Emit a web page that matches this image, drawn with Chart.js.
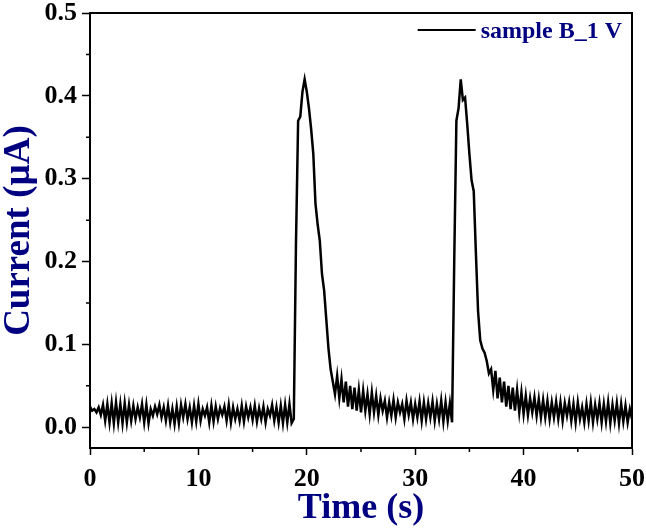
<!DOCTYPE html>
<html>
<head>
<meta charset="utf-8">
<script src="https://cdn.jsdelivr.net/npm/chart.js@4"></script>
<style>
  html, body { margin: 0; padding: 0; background: #fff; }
  #wrap { width: 646px; height: 530px; }
</style>
</head>
<body>
<div id="wrap"><canvas id="chart" width="646" height="530"></canvas></div>
<script>
// Sampling of the trace (s)
const timeStart = 0;
const timeStep = 0.2;

// Current (uA), segment by segment
const baselineBefore = [
  0.025, 0.020, 0.022, 0.018, 0.024, 0.015, 0.027, 0.008, 0.028, 0.006,
  0.029, 0.005, 0.030, 0.006, 0.028, 0.005, 0.029, 0.006, 0.027, 0.008,
  0.026, 0.010, 0.024, 0.012, 0.028, 0.006, 0.027, 0.005, 0.022, 0.014,
  0.025, 0.016, 0.027, 0.012, 0.024, 0.008, 0.026, 0.006, 0.022, 0.004,
  0.025, 0.005, 0.027, 0.012, 0.028, 0.010, 0.024, 0.006, 0.026, 0.007,
  0.028, 0.008, 0.022, 0.014, 0.024, 0.006, 0.026, 0.007, 0.025, 0.010,
  0.023, 0.015, 0.025, 0.008, 0.027, 0.006, 0.024, 0.010, 0.022, 0.008,
  0.026, 0.007, 0.025, 0.012, 0.024, 0.009, 0.026, 0.007, 0.023, 0.010,
  0.025, 0.006, 0.022, 0.014, 0.027, 0.008, 0.024, 0.006, 0.026, 0.005,
  0.027, 0.006, 0.028, 0.005, 0.010
];
const firstPeak = [
  0.220, 0.370, 0.375, 0.405, 0.420, 0.405, 0.385, 0.360, 0.330, 0.270,
  0.245, 0.225, 0.185, 0.165, 0.130, 0.095, 0.070, 0.055
];
const betweenPeaks = [
  0.040, 0.062, 0.035, 0.058, 0.030, 0.055, 0.025, 0.050, 0.022, 0.048,
  0.020, 0.045, 0.018, 0.044, 0.020, 0.040, 0.016, 0.042, 0.018, 0.038,
  0.015, 0.035, 0.020, 0.032, 0.012, 0.030, 0.014, 0.033, 0.012, 0.030,
  0.018, 0.028, 0.010, 0.032, 0.015, 0.030, 0.010, 0.028, 0.012, 0.031,
  0.008, 0.030, 0.010, 0.029, 0.012, 0.031, 0.008, 0.028, 0.010, 0.032,
  0.007, 0.030, 0.008, 0.029, 0.006
];
const secondPeak = [
  0.200, 0.370, 0.385, 0.420, 0.395, 0.398, 0.366, 0.330, 0.298, 0.285,
  0.210, 0.140, 0.105, 0.095, 0.090, 0.080, 0.065, 0.070
];
const baselineAfter = [
  0.045, 0.068, 0.035, 0.060, 0.030, 0.055, 0.025, 0.050, 0.022, 0.048,
  0.020, 0.045, 0.018, 0.042, 0.016, 0.038, 0.015, 0.035, 0.018, 0.036,
  0.014, 0.034, 0.012, 0.033, 0.012, 0.032, 0.010, 0.030, 0.012, 0.031,
  0.010, 0.030, 0.008, 0.029, 0.014, 0.030, 0.008, 0.028, 0.006, 0.030,
  0.010, 0.024, 0.006, 0.028, 0.008, 0.030, 0.006, 0.027, 0.010, 0.029,
  0.006, 0.028, 0.007, 0.030, 0.005, 0.027, 0.008, 0.029, 0.005, 0.028,
  0.007, 0.026, 0.006, 0.022, 0.010
];

const xTicks = [0, 5, 10, 15, 20, 25, 30, 35, 40, 45, 50];
const yTicks = [0, 0.05, 0.1, 0.15, 0.2, 0.25, 0.3, 0.35, 0.4, 0.45, 0.5];
const seriesLabel = 'sample B_1 V';

const current = [].concat(baselineBefore, firstPeak, betweenPeaks, secondPeak, baselineAfter);
const points = current.map((y, i) => ({ x: +(timeStart + i * timeStep).toFixed(1), y: y }));

const SERIF = "'Liberation Serif', 'Times New Roman', serif";
const NAVY = '#000080';

const isMajorX = v => Math.round(v) % 10 === 0;
const isMajorY = v => Math.round(v * 100) % 10 === 0;

// box round the plot, short minor ticks, legend
const framePlugin = {
  id: 'frame',
  afterDraw(chart) {
    const { ctx, chartArea: a, scales } = chart;
    ctx.save();
    ctx.strokeStyle = '#000';
    ctx.lineWidth = 2;
    ctx.strokeRect(a.left, a.top, a.right - a.left, a.bottom - a.top);

    ctx.lineWidth = 1.5;
    ctx.beginPath();
    xTicks.filter(v => !isMajorX(v)).forEach(v => {
      const px = scales.x.getPixelForValue(v);
      ctx.moveTo(px, a.bottom);
      ctx.lineTo(px, a.bottom + 4);
    });
    yTicks.filter(v => !isMajorY(v)).forEach(v => {
      const py = scales.y.getPixelForValue(v);
      ctx.moveTo(a.left, py);
      ctx.lineTo(a.left - 4, py);
    });
    ctx.stroke();

    // legend
    ctx.font = 'bold 24px ' + SERIF;
    const label = chart.data.datasets[0].label;
    const tw = ctx.measureText(label).width;
    const tx = a.right - 10 - tw;
    const ty = a.top + 17;
    ctx.lineWidth = 2;
    ctx.beginPath();
    ctx.moveTo(tx - 63, ty);
    ctx.lineTo(tx - 5, ty);
    ctx.stroke();
    ctx.fillStyle = NAVY;
    ctx.textBaseline = 'middle';
    ctx.fillText(label, tx, ty + 2);
    ctx.restore();
  }
};

new Chart(document.getElementById('chart'), {
  type: 'line',
  data: {
    datasets: [{
      label: seriesLabel,
      data: points,
      borderColor: '#000',
      borderWidth: 2.5,
      pointRadius: 0,
      tension: 0,
      fill: false
    }]
  },
  options: {
    responsive: false,
    animation: false,
    events: [],
    layout: { padding: { top: 13, right: 14, left: 0, bottom: 0 } },
    plugins: { legend: { display: false }, tooltip: { enabled: false } },
    scales: {
      x: {
        type: 'linear',
        min: 0,
        max: 50,
        afterBuildTicks: s => { s.ticks = xTicks.map(v => ({ value: v })); },
        afterFit: s => { s.height = 82; s.paddingLeft = 0; s.paddingRight = 0; },
        border: { color: '#000', width: 2 },
        grid: {
          drawOnChartArea: false,
          tickLength: 7,
          tickWidth: 1.5,
          tickColor: c => isMajorX(c.tick.value) ? '#000' : 'rgba(0,0,0,0)'
        },
        ticks: {
          autoSkip: false,
          maxRotation: 0,
          padding: 9,
          color: '#000',
          font: { family: SERIF, size: 26, weight: 'bold' },
          callback: v => isMajorX(v) ? String(v) : ''
        },
        title: {
          display: true,
          text: 'Time (s)',
          color: NAVY,
          padding: { top: 0, bottom: 0 },
          font: { family: SERIF, size: 36, weight: 'bold' }
        }
      },
      y: {
        type: 'linear',
        min: -0.025,
        max: 0.5,
        afterBuildTicks: s => { s.ticks = yTicks.map(v => ({ value: v })); },
        afterFit: s => { s.width = 90; s.paddingTop = 0; s.paddingBottom = 0; },
        border: { color: '#000', width: 2 },
        grid: {
          drawOnChartArea: false,
          tickLength: 8,
          tickWidth: 1.5,
          tickColor: c => isMajorY(c.tick.value) ? '#000' : 'rgba(0,0,0,0)'
        },
        ticks: {
          autoSkip: false,
          padding: 5,
          color: '#000',
          font: { family: SERIF, size: 26, weight: 'bold' },
          callback: v => isMajorY(v) ? v.toFixed(1) : ''
        },
        title: {
          display: true,
          text: 'Current (\u00b5A)',
          color: NAVY,
          padding: { top: -3, bottom: 0 },
          font: { family: SERIF, size: 37, weight: 'bold' }
        }
      }
    }
  },
  plugins: [framePlugin]
});
</script>
</body>
</html>
